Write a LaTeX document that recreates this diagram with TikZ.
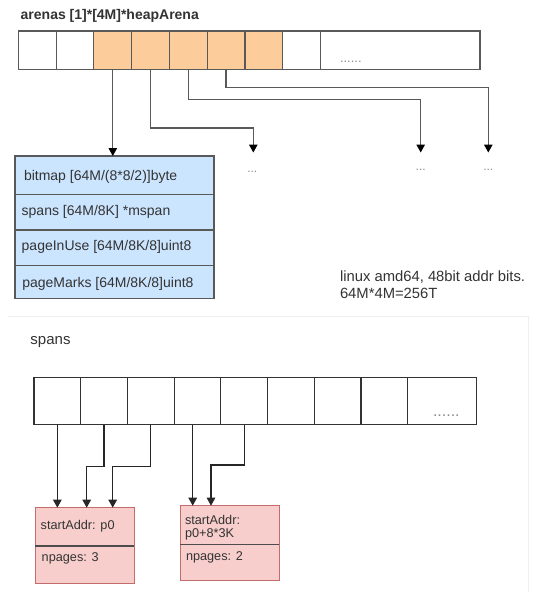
\documentclass[tikz,border=0pt]{standalone}
\usepackage{fontspec}
\setmainfont{Liberation Sans}
\usetikzlibrary{arrows.meta,calc}
\definecolor{cellorange}{HTML}{FCCD9B}
\definecolor{cellblue}{HTML}{CCE5FF}
\definecolor{cellpink}{HTML}{F8CECC}
\definecolor{pinkline}{HTML}{C46B6B}
\definecolor{txt}{HTML}{333333}
\definecolor{edge}{HTML}{595959}
\definecolor{faintline}{HTML}{EFEFEF}
\definecolor{dotgray}{HTML}{8C8C8C}
\begin{document}
\begin{tikzpicture}[x=1pt,y=-1pt,
  every node/.style={inner sep=0pt, outer sep=0pt, text=txt},
  tcell/.style={draw=edge, line width=1.1pt, minimum height=38.3pt, anchor=north west},
  ocell/.style={tcell, fill=cellorange},
  bcell/.style={draw=black!80, line width=1.2pt, minimum height=47pt, anchor=north west},
  brow/.style={draw=edge, fill=cellblue, line width=1.1pt, minimum width=199pt, anchor=north west},
  rowtext/.style={anchor=base west, font=\fontsize{14}{16}\selectfont},
  pinkbox/.style={draw=pinkline, fill=cellpink, line width=1pt, anchor=north west},
  pinktext/.style={anchor=base west, font=\fontsize{12.7}{13}\selectfont},
  divider/.style={draw=black!70, line width=1.2pt},
  dotlabel/.style={text=dotgray, font=\fontsize{12}{14}\selectfont, anchor=base},
  tarr/.style={draw=edge, line width=1.3pt, -{Triangle[width=8.5pt,length=8pt,color=black]}},
  barr/.style={draw=black!85, line width=1.2pt, -{Triangle[width=8.5pt,length=8pt]}},
]
\fill[white] (0,0) rectangle (544,592);
\useasboundingbox (0,0) rectangle (544,592);

% title
\node[anchor=base west, font=\bfseries\fontsize{14}{16}\selectfont] (title) at (20.7,19.8) {arenas [1]*[4M]*heapArena};

% top array
\node[tcell, minimum width=37.8pt] (t1) at (18.3,31) {};
\node[tcell, minimum width=37.8pt] (t2) at (56.1,31) {};
\node[ocell, minimum width=37.8pt] (t3) at (93.9,31) {};
\node[ocell, minimum width=37.8pt] (t4) at (131.6,31) {};
\node[ocell, minimum width=37.8pt] (t5) at (169.4,31) {};
\node[ocell, minimum width=37.8pt] (t6) at (207.2,31) {};
\node[ocell, minimum width=37.8pt] (t7) at (245,31) {};
\node[tcell, minimum width=38pt] (t8) at (282.7,31) {};
\node[tcell, minimum width=159.3pt] (t9) at (320.7,31) {};
\node[text=dotgray, font=\fontsize{13}{15}\selectfont, anchor=base west] (tdots) at (340,62.5) {......};

% heapArena box
\node[brow, minimum height=38.3pt] (r1) at (15,156) {};
\node[brow, minimum height=35.7pt] (r2) at (15,194.3) {};
\node[brow, minimum height=35.7pt] (r3) at (15,230) {};
\node[brow, minimum height=32.6pt] (r4) at (15,265.7) {};
\node[rowtext] (l1) at (24,180.3) {bitmap [64M/(8*8/2)]byte};
\node[rowtext] (l2) at (21.7,215.3) {spans [64M/8K] *mspan};
\node[rowtext] (l3) at (21.7,250.3) {pageInUse [64M/8K/8]uint8};
\node[rowtext] (l4) at (22.3,287.9) {pageMarks [64M/8K/8]uint8};

% top connectors
\coordinate (k2) at (253.3,128);
\coordinate (e2) at (253.3,152.5);
\coordinate (k3) at (420.7,99.5);
\coordinate (e3) at (420.7,152.5);
\coordinate (k4) at (488.3,87.5);
\coordinate (e4) at (488.3,152.5);
\draw[tarr] (t3.south) -- (t3.south |- r1.north);
\draw[tarr] (t4.south) |- (k2) -- (e2);
\draw[tarr] (t5.south) |- (k3) -- (e3);
\draw[tarr] (t6.south) |- (k4) -- (e4);
\node[dotlabel] (d2) at (252.3,172.4) {...};
\node[dotlabel] (d3) at (420.7,170) {...};
\node[dotlabel] (d4) at (488.3,170) {...};

% note
\node[anchor=base west, font=\fontsize{14.8}{17}\selectfont] (note1) at (340,281.3) {linux amd64, 48bit addr bits.};
\node[anchor=base west, font=\fontsize{14.8}{17}\selectfont] (note2) at (340,298) {64M*4M=256T};

% faint frame
\draw[faintline, line width=0.8pt] (8,316.7) -- (528.3,316.7) -- (528.3,592);

% spans
\node[anchor=base west, font=\fontsize{15}{17}\selectfont] (spanslbl) at (30.5,344.5) {spans};
\node[bcell, minimum width=46.7pt] (s1) at (34,377.5) {};
\node[bcell, minimum width=46.7pt] (s2) at (80.7,377.5) {};
\node[bcell, minimum width=46.7pt] (s3) at (127.4,377.5) {};
\node[bcell, minimum width=46.7pt] (s4) at (174.1,377.5) {};
\node[bcell, minimum width=46.7pt] (s5) at (220.8,377.5) {};
\node[bcell, minimum width=46.7pt] (s6) at (267.5,377.5) {};
\node[bcell, minimum width=46.7pt] (s7) at (314.2,377.5) {};
\node[bcell, minimum width=46.7pt] (s8) at (360.9,377.5) {};
\node[bcell, minimum width=69.1pt] (s9) at (407.6,377.5) {};
\node[text=dotgray, font=\fontsize{16}{18}\selectfont, anchor=base west] (sdots) at (433,416) {......};

% mspan boxes
\node[pinkbox, minimum width=99pt, minimum height=38.3pt] (q1) at (35,507.7) {};
\node[pinkbox, minimum width=99pt, minimum height=37.3pt] (q1b) at (35,546) {};
\node[pinkbox, minimum width=99.3pt, minimum height=38.6pt] (q2) at (180,505.7) {};
\node[pinkbox, minimum width=99.3pt, minimum height=35.7pt] (q2b) at (180,544.3) {};
\draw[divider] (q1.south west) -- (q1.south east);
\draw[divider] (q2.south west) -- (q2.south east);
\node[pinktext] (q1t) at (40.7,529.8) {startAddr: p0};
\node[pinktext] (q1bt) at (41.7,561.7) {npages: 3};
\node[anchor=north west, align=left, font=\fontsize{12.7}{12.8}\selectfont] (q2t) at (185,515) {startAddr:\\p0+8*3K};
\node[pinktext] (q2bt) at (186,560) {npages: 2};

% bottom connectors
\coordinate (j2) at (86.7,466.7);
\coordinate (j3) at (112.7,466.7);
\coordinate (j4) at (192.7,450);
\coordinate (j5) at (211,465);
\draw[barr] (s1.south) -- (s1.south |- q1.north);
\draw[barr] (s2.south) |- (j2) -- (j2 |- q1.north);
\draw[barr] (s3.south) |- (j3) -- (j3 |- q1.north);
\draw[barr] (j4 |- s4.south) -- (j4 |- q2.north);
\draw[barr] (s5.south) |- (j5) -- (j5 |- q2.north);
\end{tikzpicture}
\end{document}
